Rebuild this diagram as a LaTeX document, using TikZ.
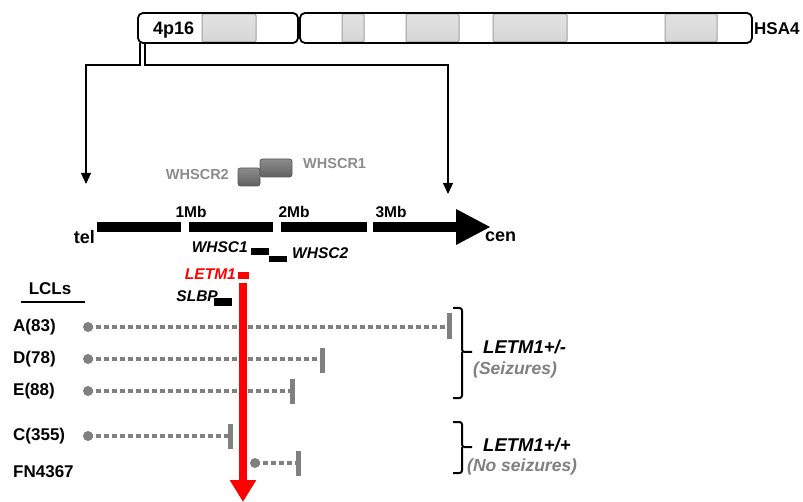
\documentclass[tikz,border=0pt]{standalone}
\usepackage{fontspec}
\setmainfont{Liberation Sans}
\usetikzlibrary{arrows.meta}
\definecolor{txtgray}{HTML}{8C8C8C}
\definecolor{dotgray}{HTML}{808080}
\definecolor{bandfill}{HTML}{D6D6D6}
\definecolor{bandline}{HTML}{A0A0A0}
\begin{document}
\begin{tikzpicture}[x=1pt,y=-1pt,
  lab/.style={font=\fontsize{17}{19}\selectfont\bfseries, inner sep=0pt},
  mb/.style={font=\fontsize{15.5}{17}\selectfont\bfseries, inner sep=0pt},
  gene/.style={font=\fontsize{15.5}{18}\selectfont\bfseries\itshape, inner sep=0pt},
  grp/.style={font=\fontsize{18.5}{21}\selectfont\bfseries\itshape, inner sep=0pt},
  sub/.style={font=\fontsize{17.5}{20}\selectfont\bfseries\itshape, text=dotgray, inner sep=0pt},
  band/.style={top color=bandfill!70, bottom color=bandfill, draw=bandline, line width=1pt, rounded corners=1.5pt},
  chrom/.style={draw, line width=1.8pt, rounded corners=5pt},
  conn/.style={line width=1.2pt, -{Triangle[width=10pt,length=11pt]}},
  dotline/.style={dotgray, line width=4.5pt, dash pattern=on 4.5pt off 3.5pt},
  endbar/.style={dotgray, line width=5pt},
  startdot/.style={circle, fill=dotgray, minimum size=10pt, inner sep=0pt},
  brace/.style={line width=2pt, rounded corners=2.5pt},
  gbox/.style={top color=black!45, bottom color=black!62, draw=black!65, line width=0.8pt, rounded corners=2.5pt}
]
\useasboundingbox (0,0) rectangle (803,502);

% ---------- chromosome ----------
\draw[band] (202,14) rectangle (256,42);
\draw[band] (342,14) rectangle (364,42);
\draw[band] (406,14) rectangle (459,42);
\draw[band] (493,14) rectangle (567,42);
\draw[band] (665,14) rectangle (717,42);
\draw[chrom] (138,13) rectangle (298,43);
\draw[chrom] (300,13) rectangle (752,43);
\node[lab, font=\fontsize{18}{20}\selectfont\bfseries, anchor=west] (p16) at (153,30) {4p16};
\node[lab, anchor=west] (hsa) at (754,29) {HSA4};

\coordinate (c1) at (140,43);
\coordinate (c2) at (145,43);
\coordinate (tl) at (86,184);
\coordinate (tr) at (448,194);
\draw[conn] (c1) |- (86,65) -- (tl);
\draw[conn] (c2) |- (448,65) -- (tr);

% ---------- WHSCR ----------
\draw[gbox] (238,168) rectangle (260,186);
\draw[gbox] (260,159) rectangle (292,177);
\node[lab, font=\fontsize{14.5}{16}\selectfont\bfseries, text=txtgray, anchor=east] (r2) at (229,175) {WHSCR2};
\node[lab, font=\fontsize{14.5}{16}\selectfont\bfseries, text=txtgray, anchor=west] (r1) at (303,164) {WHSCR1};

% ---------- axis ----------
\fill (97,222) rectangle (181,232);
\fill (189,222) rectangle (273,232);
\fill (281,222) rectangle (367,232);
\fill (373,222) rectangle (457,232);
\fill (456,209) -- (490,227) -- (456,245) -- cycle;
\node[lab, font=\fontsize{18}{20}\selectfont\bfseries, anchor=east] (tel) at (95,237) {tel};
\node[lab, font=\fontsize{18}{20}\selectfont\bfseries, anchor=west] (cen) at (485,237) {cen};
\node[mb] (m1) at (191,212) {1Mb};
\node[mb] (m2) at (294,212) {2Mb};
\node[mb] (m3) at (391,212) {3Mb};

% ---------- genes ----------
\fill (251,248) rectangle (269,255);
\fill (269,256) rectangle (287,262);
\node[gene, anchor=east] (w1) at (248,247) {WHSC1};
\node[gene, anchor=west] (w2) at (292,253) {WHSC2};
\fill[red] (238,272) rectangle (249,279);
\node[gene, text=red, anchor=east] (letm) at (236,274) {LETM1};
\fill (214,298) rectangle (232,306);
\node[gene, anchor=east] (slbp) at (218,296) {SLBP};

% ---------- LCLs ----------
\node[lab] (lcl) at (50,289) {LCLs};
\draw[line width=2pt] (21,302) -- (85,302);

\node[lab, anchor=west] (la) at (13,327) {A(83)};
\node[lab, anchor=west] (ld) at (13,359) {D(78)};
\node[lab, anchor=west] (le) at (13,391) {E(88)};
\node[lab, anchor=west] (lc) at (13,436) {C(355)};
\node[lab, anchor=west] (lf) at (13,472) {FN4367};

\coordinate (ae) at (449,327);
\coordinate (de) at (322,359);
\coordinate (ee) at (292,391);
\coordinate (ce) at (230,436);
\coordinate (fe) at (298,463);
\node[startdot] (as) at (88,327) {};
\node[startdot] (ds) at (88,359) {};
\node[startdot] (es) at (88,391) {};
\node[startdot] (cs) at (88,436) {};
\node[startdot] (fs) at (255,463) {};
\draw[dotline] (as.center) -- (ae);
\draw[dotline] (ds.center) -- (de);
\draw[dotline] (es.center) -- (ee);
\draw[dotline] (cs.center) -- (ce);
\draw[dotline] (fs.center) -- (fe);
\draw[endbar] (449,313) -- (449,339);
\draw[endbar] (322,348) -- (322,373);
\draw[endbar] (292,379) -- (292,404);
\draw[endbar] (230,424) -- (230,449);
\draw[endbar] (298,451) -- (298,476);

% ---------- red arrow ----------
\coordinate (rs) at (243,283);
\coordinate (re) at (243,502);
\draw[red, line width=8.5pt, -{Triangle[width=25pt,length=22pt]}] (rs) -- (re);

% ---------- braces ----------
\draw[brace] (453,308) -- (462,308) -- (462,352) -- (472,352);
\draw[brace] (462,352) -- (462,398) -- (453,398);
\draw[brace] (453,422) -- (462,422) -- (462,447) -- (472,447);
\draw[brace] (462,447) -- (462,473) -- (453,473);
\node[grp, anchor=west] (g1) at (483,347) {LETM1+/-};
\node[sub, anchor=west] (s1) at (473,370) {(Seizures)};
\node[grp, anchor=west] (g2) at (483,445) {LETM1+/+};
\node[sub, anchor=west] (s2) at (467,467) {(No seizures)};
\end{tikzpicture}
\end{document}
